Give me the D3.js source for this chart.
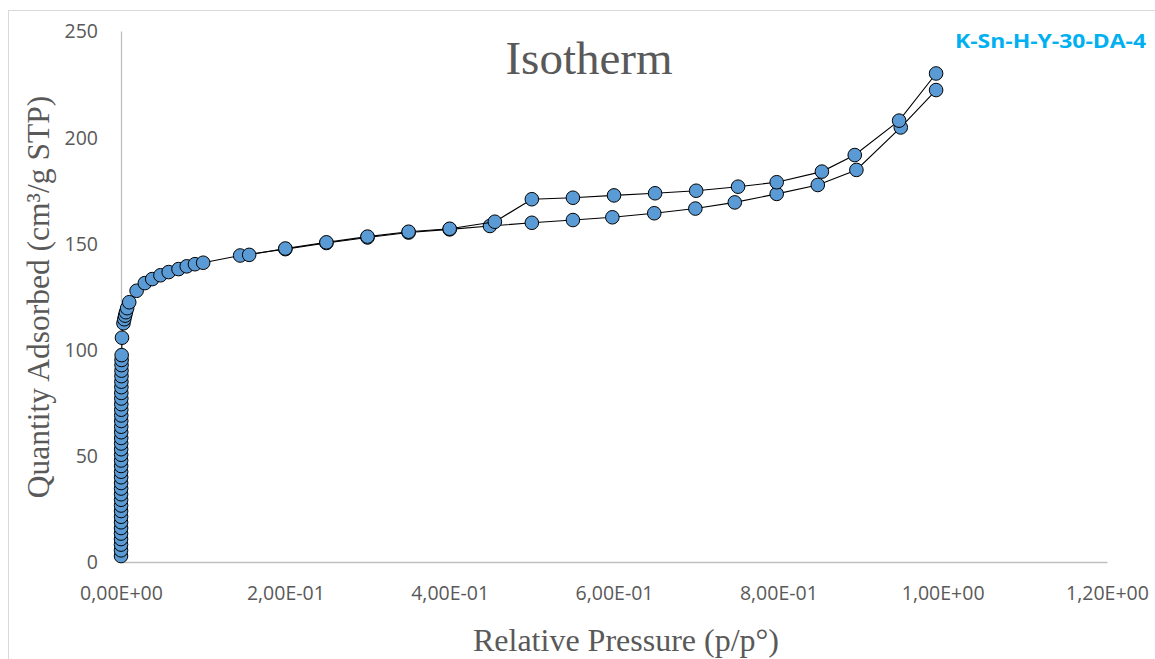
<!DOCTYPE html>
<html><head><meta charset="utf-8">
<script src="https://cdn.jsdelivr.net/npm/d3@7"></script>
<style>body{margin:0;background:#fff}svg{display:block}</style>
</head><body>
<svg id="c" width="1155" height="659"></svg>
<script>
// ---- data ----
const title = "Isotherm";
const seriesName = "K-Sn-H-Y-30-DA-4";
const xLabel = "Relative Pressure (p/p°)";
const yLabel = "Quantity Adsorbed (cm³/g STP)";
const xTicks = [0, 0.2, 0.4, 0.6, 0.8, 1.0, 1.2];
const xTickLabels = ["0,00E+00","2,00E-01","4,00E-01","6,00E-01","8,00E-01","1,00E+00","1,20E+00"];
const yTicks = [0, 50, 100, 150, 200, 250];

// adsorption branch (p/p0, quantity)
const adsP = [0.00001,0.00002,0.00003,0.00004,0.00005,0.00006,0.00007,0.00008,0.00009,0.0001,
  0.00011,0.00012,0.00013,0.00014,0.00015,0.00016,0.00017,0.00018,0.00019,0.0002,
  0.00022,0.00024,0.00026,0.00028,0.0003,0.00032,0.00034,0.00036,0.00038,0.0004,
  0.00045,0.0005,0.00055,0.0006,0.00065,0.0007,0.0008,
  0.0012,0.003,0.004,0.005,0.006,0.0075,0.010,
  0.019,0.029,0.038,0.048,0.058,0.070,0.080,0.090,0.100,0.145,
  0.20,0.25,0.30,0.35,0.40,0.449,0.50,0.55,0.598,0.649,0.699,0.747,0.798,0.848,0.895,0.949,0.992];
const adsQ = [2.8,5.5,8.2,10.8,13.4,16.0,18.7,21.3,24.0,26.6,
  29.3,31.9,34.6,37.2,39.9,42.5,45.2,47.8,50.5,53.1,
  55.8,58.4,61.1,63.7,66.4,69.0,71.7,74.3,77.0,79.6,
  82.3,84.9,87.5,90.1,92.7,95.1,97.4,
  105.6,112.4,114.3,116.0,117.6,119.5,122.3,
  127.7,131.3,133.2,135.0,136.5,137.9,139.2,140.2,140.9,144.3,
  147.3,150.2,152.8,155.1,156.6,158.2,159.7,161.0,162.3,164.2,166.4,169.3,173.3,177.5,184.6,204.6,222.2];

// desorption branch
const desP = [0.992,0.947,0.893,0.853,0.798,0.751,0.700,0.650,0.600,0.550,0.500,0.455,0.400,0.350,0.300,0.250,0.200,0.156];
const desQ = [230.0,207.8,191.6,183.8,178.8,176.7,174.8,173.6,172.6,171.5,170.8,160.2,156.9,155.5,153.2,150.5,147.6,144.6];

// ---- chart ----
const svg = d3.select("#c");
const L = 121, R = 1107, T = 31, B = 562;
const x = d3.scaleLinear().domain([0, 1.2]).range([L, R]);
const y = d3.scaleLinear().domain([0, 250]).range([B, T]);

svg.append("rect").attr("x",8.5).attr("y",10.5).attr("width",1300).attr("height",800)
  .attr("fill","#fff").attr("stroke","#d9d9d9").attr("stroke-width",1);

const tickFont = "'Open Sans', 'Liberation Sans', sans-serif";
const xAxis = d3.axisBottom(x).tickValues(xTicks).tickSize(0).tickPadding(0)
  .tickFormat((d,i)=>xTickLabels[i]);
const gx = svg.append("g").attr("transform",`translate(0,${B})`).call(xAxis);
gx.select(".domain").attr("stroke","#bfbfbf").attr("stroke-width",1.3);
gx.selectAll("text").attr("fill","#595959").attr("font-family",tickFont)
  .attr("font-size",19.5).attr("dy",null).attr("y",38);

const yAxis = d3.axisLeft(y).tickValues(yTicks).tickSize(0).tickPadding(0);
const gy = svg.append("g").attr("transform",`translate(${L},0)`).call(yAxis);
gy.select(".domain").attr("stroke","#bfbfbf").attr("stroke-width",1.3);
gy.selectAll("text").attr("fill","#595959").attr("font-family",tickFont)
  .attr("font-size",19.5).attr("x",-23).attr("dy","0.35em");

const ads = adsP.map((p,i)=>[p, adsQ[i]]);
const des = desP.map((p,i)=>[p, desQ[i]]);
const line = d3.line().x(d=>x(d[0])).y(d=>y(d[1]));

[ads, des].forEach(s=>{
  svg.append("path").datum(s).attr("d",line).attr("fill","none")
    .attr("stroke","#000").attr("stroke-width",1.1);
  svg.append("g").selectAll("circle").data(s).join("circle")
    .attr("cx",d=>x(d[0])).attr("cy",d=>y(d[1])).attr("r",6.8)
    .attr("fill","#5b9bd5").attr("stroke","#000").attr("stroke-width",1);
});

const serif = "'Liberation Serif', 'Times New Roman', serif";
svg.append("text").attr("x",589).attr("y",74).attr("text-anchor","middle")
  .attr("font-family",serif).attr("font-size",47).attr("fill","#595959").text(title);

svg.append("text").attr("x",626).attr("y",651).attr("text-anchor","middle")
  .attr("font-family",serif).attr("font-size",32).attr("fill","#595959").text(xLabel);

svg.append("text").attr("transform","translate(49,297) rotate(-90)").attr("text-anchor","middle")
  .attr("font-family",serif).attr("font-size",31.5).attr("fill","#595959").text(yLabel);

svg.append("text").attr("x",955).attr("y",48)
  .attr("font-family",tickFont).attr("font-weight","bold").attr("font-size",19)
  .attr("textLength",191).attr("lengthAdjust","spacingAndGlyphs")
  .attr("fill","#00b0f0").text(seriesName);
</script>
</body></html>
